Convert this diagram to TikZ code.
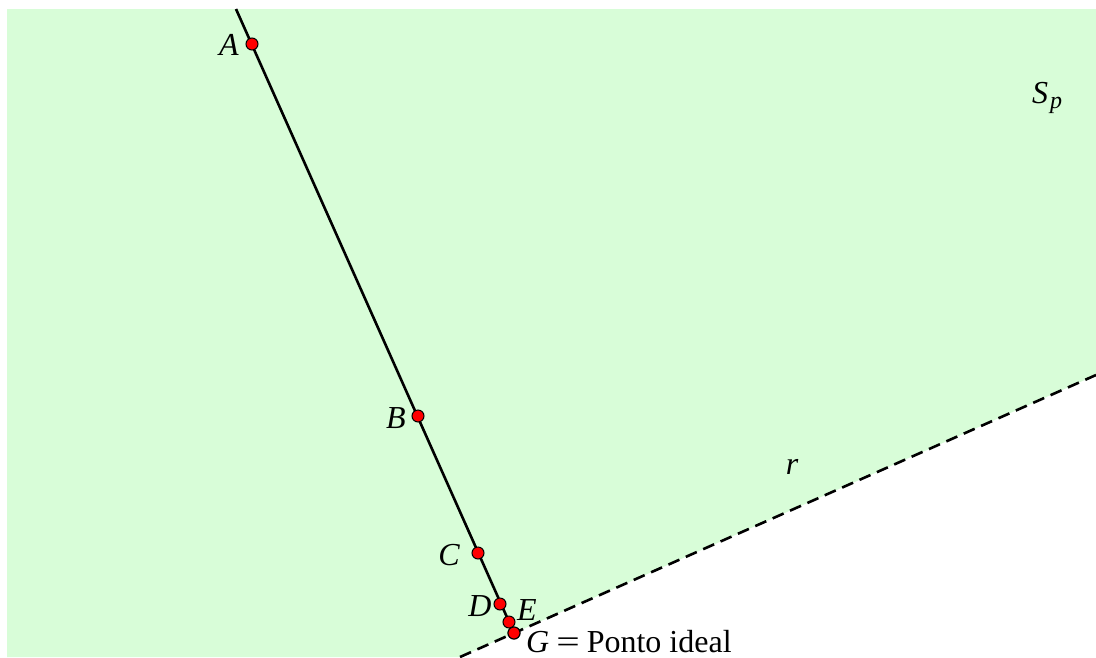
\documentclass[tikz,border=0pt]{standalone}
\usepackage{fontspec}
\usepackage{graphicx}
\setmainfont{Liberation Serif}
\begin{document}
\begin{tikzpicture}[x=1pt,y=-1pt,
  pt/.style={circle,fill=red,draw=black,line width=1pt,inner sep=0pt,minimum size=12pt},
  lbl/.style={font=\fontsize{32}{38}\selectfont\itshape,inner sep=0pt},
  ln/.style={line width=2.6pt,black}]
\useasboundingbox (0,0) rectangle (1096,657);
\definecolor{plane}{RGB}{216,253,216}
\coordinate (TL) at (7,9);
\coordinate (TR) at (1096,9);
\coordinate (R1) at (1096,375);
\coordinate (R0) at (460,657);
\coordinate (BL) at (7,657);
\fill[plane] (TL) -- (TR) -- (R1) -- (R0) -- (BL) -- cycle;
\draw[line width=2.6pt,dash pattern=on 12pt off 7pt] (R0) -- (R1);
\coordinate (top) at (236,9);
\node[pt] (G) at (514,633) {};
\draw[ln] (top) -- (G.center);
\node[pt] (A) at (252,44) {};
\node[pt] (B) at (418,416) {};
\node[pt] (C) at (478,553) {};
\node[pt] (D) at (500,604) {};
\node[pt] (E) at (509,622) {};
\node[pt] (G2) at (514,633) {};
\node[lbl] (lA) at (229,45) {A};
\node[lbl] (lB) at (396,418) {B};
\node[lbl] (lC) at (449,555) {C};
\node[lbl] (lD) at (480,606) {D};
\node[lbl] (lE) at (527,610) {E};
\node[lbl,anchor=base west] (lG) at (526,652) {G\upshape\kern7pt\scalebox{1.3}[1]{=}\kern7pt Ponto ideal};
\node[lbl,anchor=base west] (lS) at (1032,103) {S\kern2pt\raisebox{-5pt}{\fontsize{24}{24}\selectfont p}};
\node[lbl] (lr) at (792,467) {r};
\end{tikzpicture}
\end{document}
